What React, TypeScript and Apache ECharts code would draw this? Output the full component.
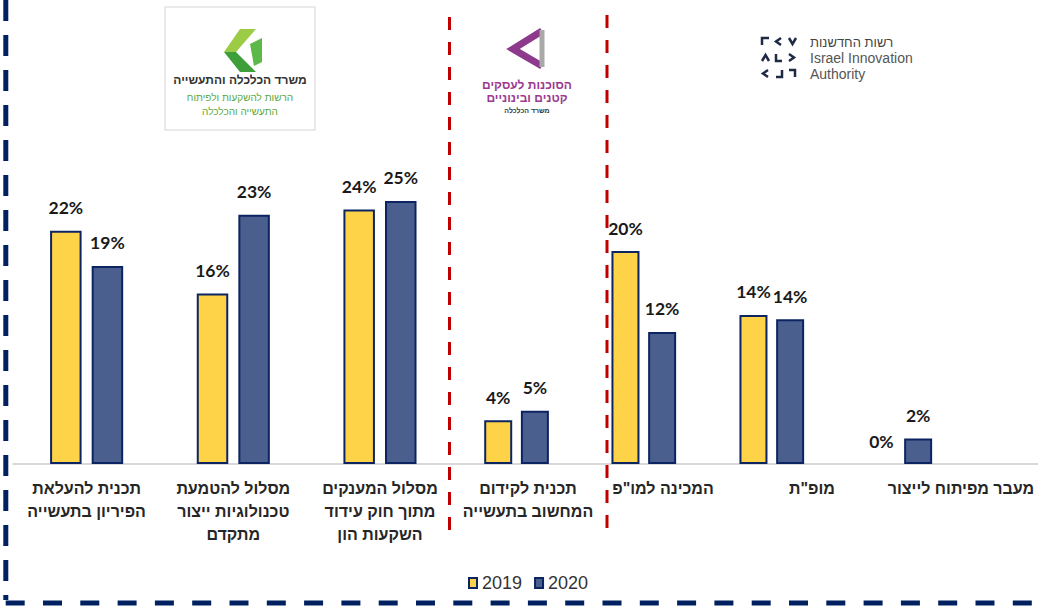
import React, { useEffect, useRef } from "react";
import * as echarts from "echarts";

// ---- data ----
const seriesNames = ["2019", "2020"];

const categoriesLeft = [
  "תכנית להעלאת\nהפיריון בתעשייה",
  "מסלול להטמעת\nטכנולוגיות ייצור\nמתקדם",
  "מסלול המענקים\nמתוך חוק עידוד\nהשקעות הון",
];
const values2019Left = [21.9, 16.0, 23.9];
const values2020Left = [18.6, 23.4, 24.7];

const categoriesMid = ["תכנית לקידום\nהמחשוב בתעשייה"];
const values2019Mid = [4.1];
const values2020Mid = [5.0];

const categoriesRight = ['המכינה למו"פ', 'מופ"ת', "מעבר מפיתוח לייצור"];
const values2019Right = [20.0, 14.0, 0];
const values2020Right = [12.4, 13.6, 2.4];

const YELLOW = "#FFD348";
const BLUE = "#4A5F8E";
const NAVY = "#0C2462";

export default function App() {
  const ref = useRef<HTMLDivElement>(null);

  useEffect(() => {
    if (!ref.current) return;
    const chart = echarts.init(ref.current, undefined, { renderer: "svg" });

    const top = 144.5;
    const height = 319.5;
    // bar grids (0-2) and label-only grids (3-5)
    const grids = [
      { left: 13.3, width: 440, top, height },
      { left: 453.3, width: 126.5, top, height },
      { left: 579.8, width: 384, top, height },
      { left: 13.3, width: 440, top, height },
      { left: 453, width: 150, top, height },
      { left: 588.5, width: 447, top, height },
    ];
    const cats = [categoriesLeft, categoriesMid, categoriesRight];
    const vals = [
      [values2019Left, values2020Left],
      [values2019Mid, values2020Mid],
      [values2019Right, values2020Right],
    ];
    const barWidths = [31.5, 28, 28];
    const barGaps = ["32%", "31%", "31%"];

    const labelStyle = {
      interval: 0,
      fontFamily: "Liberation Sans",
      fontSize: 16,
      fontWeight: "bold",
      lineHeight: 23,
      color: "#262626",
      margin: 13,
    };

    const xAxis: any[] = [
      ...cats.map((c, i) => ({
        type: "category",
        gridIndex: i,
        data: c,
        axisTick: { show: false },
        axisLine: { lineStyle: { color: "#D9D9D9", width: 2 } },
        axisLabel: { show: false },
      })),
      ...cats.map((c, i) => ({
        type: "category",
        gridIndex: i + 3,
        data: c,
        axisTick: { show: false },
        axisLine: { show: false },
        axisLabel: labelStyle,
      })),
    ];
    const yAxis = grids.map((_, i) => ({
      type: "value",
      gridIndex: i,
      min: 0,
      max: 30,
      show: false,
      splitLine: { show: false },
    }));

    const series: any[] = [];
    vals.forEach((pair, gi) => {
      pair.forEach((data, si) => {
        series.push({
          type: "bar",
          name: seriesNames[si],
          xAxisIndex: gi,
          yAxisIndex: gi,
          data: data.map((v) =>
            v === 0 ? { value: v, itemStyle: { borderWidth: 0, opacity: 0 } } : v
          ),
          barWidth: barWidths[gi],
          barGap: barGaps[gi],
          itemStyle: {
            color: si === 0 ? YELLOW : BLUE,
            borderColor: NAVY,
            borderWidth: 2,
          },
          label: {
            show: true,
            position: "top",
            distance: 14,
            formatter: (p: any) => Math.round(p.value) + "%",
            fontFamily: "Lato",
            fontWeight: "bold",
            fontSize: 17.5,
            color: "#1A1A1A",
            opacity: 1,
          },
        });
      });
    });

    const graphic: any[] = [
      // baseline extension
      { type: "line", shape: { x1: 963, y1: 464, x2: 1038, y2: 464 }, style: { stroke: "#D9D9D9", lineWidth: 2 } },
      // blue dashed frame
      { type: "line", shape: { x1: 5.8, y1: 0, x2: 5.8, y2: 600 }, style: { stroke: "#002060", lineWidth: 5, lineDash: [21, 14] } },
      { type: "line", shape: { x1: -31.6, y1: 603, x2: 1038, y2: 603 }, style: { stroke: "#002060", lineWidth: 5, lineDash: [19, 18.3] } },
      // red dashed separators
      { type: "line", shape: { x1: 449.5, y1: 17, x2: 449.5, y2: 532 }, style: { stroke: "#C00000", lineWidth: 3, lineDash: [13, 12] } },
      { type: "line", shape: { x1: 607, y1: 15, x2: 607, y2: 531 }, style: { stroke: "#C00000", lineWidth: 3, lineDash: [13, 12] } },
      // ministry logo box
      { type: "rect", shape: { x: 165, y: 7, width: 150, height: 123 }, style: { fill: "#fff", stroke: "#E4E4E4", lineWidth: 1.5 } },
      { type: "polygon", shape: { points: [[240, 29], [256, 29], [236, 52], [224, 52]] }, style: { fill: "#9CCB45" } },
      { type: "polygon", shape: { points: [[224, 52], [236, 52], [256, 72], [240, 72]] }, style: { fill: "#3E9F3A" } },
      { type: "polygon", shape: { points: [[250, 44], [262, 38], [262, 62], [254, 66]] }, style: { fill: "#5DB947" } },
      { type: "text", x: 240, y: 80, style: { text: "משרד הכלכלה והתעשייה", fontSize: 12, fontWeight: "bold", fill: "#333", align: "center", verticalAlign: "middle", fontFamily: "Liberation Sans" } },
      { type: "text", x: 240, y: 97, style: { text: "הרשות להשקעות ולפיתוח", fontSize: 10, fill: "#5AA83C", align: "center", verticalAlign: "middle", fontFamily: "Liberation Sans" } },
      { type: "text", x: 240, y: 111, style: { text: "התעשייה והכלכלה", fontSize: 10, fill: "#5AA83C", align: "center", verticalAlign: "middle", fontFamily: "Liberation Sans" } },
      // SBA logo
      { type: "polyline", shape: { points: [[542, 31], [513, 49], [542, 66]] }, style: { stroke: "#8E3A8C", lineWidth: 7, lineJoin: "miter", fill: "none" } },
      { type: "line", shape: { x1: 542, y1: 30, x2: 542, y2: 67 }, style: { stroke: "#A9A9A9", lineWidth: 5 } },
      { type: "text", x: 527, y: 85, style: { text: "הסוכנות לעסקים", fontSize: 12, fontWeight: "bold", fill: "#9B3A8F", align: "center", verticalAlign: "middle", fontFamily: "Liberation Sans" } },
      { type: "text", x: 527, y: 98, style: { text: "קטנים ובינוניים", fontSize: 12, fontWeight: "bold", fill: "#9B3A8F", align: "center", verticalAlign: "middle", fontFamily: "Liberation Sans" } },
      { type: "text", x: 527, y: 110, style: { text: "משרד הכלכלה", fontSize: 7, fontWeight: "bold", fill: "#333", align: "center", verticalAlign: "middle", fontFamily: "Liberation Sans" } },
      // Innovation authority logo
      ...[
        [[762, 45], [762, 38], [769, 38]],
        [[781, 38], [776, 41.5], [781, 45]],
        [[789, 38], [792.5, 44], [796, 38]],
        [[762, 61], [765.5, 55], [769, 61]],
        [[776, 54], [776, 61], [782, 61]],
        [[789, 54], [794, 57.5], [789, 61]],
        [[768, 70], [763, 73.5], [768, 77]],
        [[776, 77], [782, 77], [782, 70]],
        [[789, 70], [795, 70], [795, 77]],
      ].map((pts) => ({ type: "polyline", shape: { points: pts }, style: { stroke: "#1F2A44", lineWidth: 2.5, fill: "none" } })),
      { type: "text", x: 810, y: 42, style: { text: "רשות החדשנות", fontSize: 13, fill: "#444", align: "left", verticalAlign: "middle", fontFamily: "Liberation Sans" } },
      { type: "text", x: 810, y: 58, style: { text: "Israel Innovation", fontSize: 14, fill: "#555", align: "left", verticalAlign: "middle", fontFamily: "Liberation Sans" } },
      { type: "text", x: 810, y: 74, style: { text: "Authority", fontSize: 14, fill: "#555", align: "left", verticalAlign: "middle", fontFamily: "Liberation Sans" } },
    ];

    chart.setOption({
      animation: false,
      backgroundColor: "#fff",
      legend: {
        data: seriesNames,
        top: 569,
        left: 463,
        icon: "rect",
        itemWidth: 8,
        itemHeight: 10,
        itemGap: 12,
        textStyle: { fontFamily: "Liberation Sans", fontSize: 18, color: "#333" },
      },
      grid: grids,
      xAxis,
      yAxis,
      series,
      graphic,
    });

    return () => chart.dispose();
  }, []);

  return (
    <div
      ref={ref}
      style={{ position: "absolute", left: 0, top: 0, width: 1038, height: 606 }}
    />
  );
}
